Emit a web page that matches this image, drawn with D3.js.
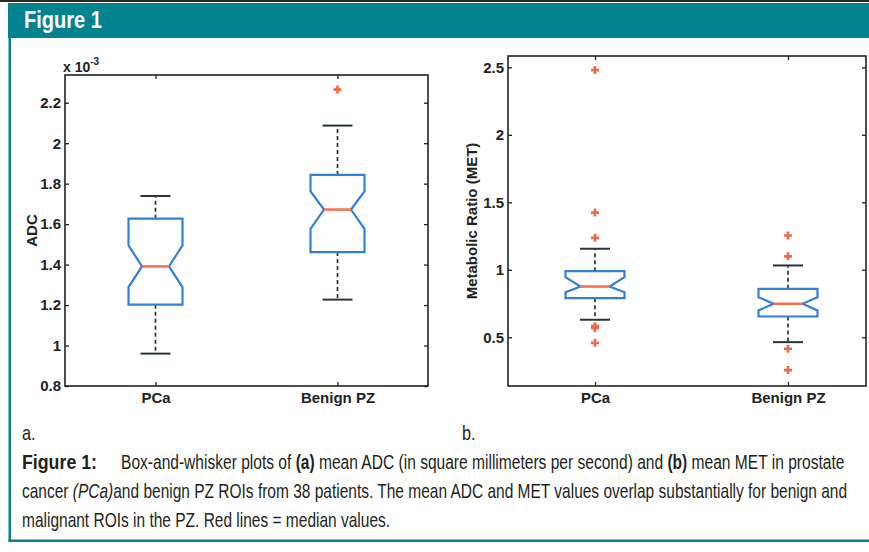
<!DOCTYPE html>
<html>
<head>
<meta charset="utf-8">
<script src="https://cdn.jsdelivr.net/npm/d3@7"></script>
<style>
  body { margin: 0; background: #fff; }
  svg { display: block; }
</style>
</head>
<body>
<div id="container"></div>
<script>
/* CONSTANTS AND GLOBALS */
const width = 869,
  height = 552;

const teal = "#03828f",
  axisColor = "#1e2424",
  boxBlue = "#3380d8",
  medianRed = "#f4724f",
  whiskerColor = "#263636",
  outlierRed = "#f26a4c",
  axisFont = "'Liberation Sans', Arial, sans-serif",
  capFont = "'Liberation Sans', Arial, sans-serif";

/* DATA */
const categories = ["PCa", "Benign PZ"];

// (a) mean ADC, x 10^-3
const adcTicks = [0.8, 1, 1.2, 1.4, 1.6, 1.8, 2, 2.2];
const adcWhiskerLow = [0.96, 1.227];
const adcQ1 = [1.202, 1.462];
const adcNotchLow = [1.289, 1.577];
const adcMedian = [1.391, 1.672];
const adcNotchHigh = [1.495, 1.762];
const adcQ3 = [1.627, 1.843];
const adcWhiskerHigh = [1.739, 2.087];
const adcOutliers = [[], [2.265]];

// (b) metabolic ratio (MET)
const metTicks = [0.5, 1, 1.5, 2, 2.5];
const metWhiskerLow = [0.63, 0.464];
const metQ1 = [0.79, 0.654];
const metNotchLow = [0.834, 0.699];
const metMedian = [0.876, 0.748];
const metNotchHigh = [0.945, 0.797];
const metQ3 = [0.99, 0.859];
const metWhiskerHigh = [1.156, 1.032];
const metOutliers = [[2.48, 1.424, 1.237, 0.582, 0.568, 0.459], [1.254, 1.1, 0.415, 0.257]];

/* SVG */
const svg = d3.select("#container")
  .append("svg")
  .attr("width", width)
  .attr("height", height);

// + HEADER AND FRAME
svg.append("rect").attr("x", 0).attr("y", 0).attr("width", width).attr("height", 2).attr("fill", "#2a2a2a");
svg.append("rect").attr("x", 8).attr("y", 3).attr("width", width - 8).attr("height", 35).attr("fill", teal);
svg.append("rect").attr("x", 8.5).attr("y", 38).attr("width", 2.5).attr("height", 504).attr("fill", teal);
svg.append("rect").attr("x", 8.5).attr("y", 539.5).attr("width", width - 8.5).attr("height", 2.5).attr("fill", teal);

/* PANELS */
function drawPanel(p) {
  const f = p.frame;
  const xScale = d3.scalePoint().domain(categories).range(p.centers);
  const yScale = d3.scaleLinear().domain(p.yDomain).range([f.bottom, f.top]);
  const g = svg.append("g");

  const styleAxis = sel => sel
    .attr("color", axisColor)
    .attr("font-family", axisFont)
    .attr("font-size", 15)
    .attr("font-weight", "bold")
    .call(a => a.select(".domain").remove())
    .call(a => a.selectAll(".tick line").attr("stroke-width", 1.3))
    .call(a => a.selectAll(".tick text").attr("fill", "#222"));

  // + AXES (ticks point inward, MATLAB style)
  g.append("g")
    .attr("transform", `translate(${f.left},0)`)
    .call(d3.axisLeft(yScale).tickValues(p.ticks).tickFormat(d3.format("~g"))
      .tickSizeInner(-4).tickSizeOuter(0).tickPadding(4))
    .call(styleAxis);
  g.append("g")
    .attr("transform", `translate(${f.right},0)`)
    .call(d3.axisRight(yScale).tickValues(p.ticks).tickFormat("")
      .tickSizeInner(-4).tickSizeOuter(0))
    .call(styleAxis);
  g.append("g")
    .attr("transform", `translate(0,${f.bottom})`)
    .call(d3.axisBottom(xScale).tickSizeInner(-4).tickSizeOuter(0).tickPadding(6))
    .call(styleAxis);
  g.append("g")
    .attr("transform", `translate(0,${f.top})`)
    .call(d3.axisTop(xScale).tickFormat("").tickSizeInner(-4).tickSizeOuter(0))
    .call(styleAxis);

  g.append("rect")
    .attr("x", f.left).attr("y", f.top)
    .attr("width", f.right - f.left).attr("height", f.bottom - f.top)
    .attr("fill", "none")
    .attr("stroke", axisColor)
    .attr("stroke-width", 1.6);

  // + Y LABEL
  g.append("text")
    .attr("transform", `translate(${p.labelX},${(f.top + f.bottom) / 2}) rotate(-90)`)
    .attr("text-anchor", "middle")
    .attr("font-family", axisFont)
    .attr("font-size", 15)
    .attr("font-weight", "bold")
    .attr("fill", "#222")
    .text(p.ylabel);

  // + BOXES
  categories.forEach((cat, i) => {
    const cx = xScale(cat),
      hw = p.boxWidth / 2,
      ins = p.notchInset,
      s = p.stats;

    // whiskers
    [[s.q3[i], s.whiskerHigh[i]], [s.q1[i], s.whiskerLow[i]]].forEach(([from, to]) => {
      g.append("line")
        .attr("x1", cx).attr("x2", cx)
        .attr("y1", yScale(from)).attr("y2", yScale(to))
        .attr("stroke", whiskerColor)
        .attr("stroke-width", 1.7)
        .attr("stroke-dasharray", "4,3");
      g.append("line")
        .attr("x1", cx - p.capWidth / 2).attr("x2", cx + p.capWidth / 2)
        .attr("y1", yScale(to)).attr("y2", yScale(to))
        .attr("stroke", whiskerColor)
        .attr("stroke-width", 2);
    });

    // notched box
    const pts = [
      [cx - hw, yScale(s.q3[i])],
      [cx + hw, yScale(s.q3[i])],
      [cx + hw, yScale(s.notchHigh[i])],
      [cx + hw - ins, yScale(s.median[i])],
      [cx + hw, yScale(s.notchLow[i])],
      [cx + hw, yScale(s.q1[i])],
      [cx - hw, yScale(s.q1[i])],
      [cx - hw, yScale(s.notchLow[i])],
      [cx - hw + ins, yScale(s.median[i])],
      [cx - hw, yScale(s.notchHigh[i])]
    ];
    g.append("path")
      .attr("d", d3.line()(pts) + "Z")
      .attr("fill", "#fff")
      .attr("stroke", boxBlue)
      .attr("stroke-width", 2.2);

    g.append("line")
      .attr("x1", cx - hw + ins).attr("x2", cx + hw - ins)
      .attr("y1", yScale(s.median[i])).attr("y2", yScale(s.median[i]))
      .attr("stroke", medianRed)
      .attr("stroke-width", 2.6);

    // outliers
    g.selectAll(null)
      .data(s.outliers[i])
      .join("path")
      .attr("transform", d => `translate(${cx},${yScale(d)})`)
      .attr("d", d3.symbol(d3.symbolCross, 36))
      .attr("fill", outlierRed);
  });

  return g;
}

const adcPanel = drawPanel({
  frame: { left: 65, right: 428, top: 75, bottom: 386 },
  centers: [155.5, 337.5],
  yDomain: [0.8, 2.337],
  ticks: adcTicks,
  ylabel: "ADC",
  labelX: 37,
  boxWidth: 54,
  notchInset: 13.5,
  capWidth: 30,
  stats: {
    whiskerLow: adcWhiskerLow, q1: adcQ1, notchLow: adcNotchLow, median: adcMedian,
    notchHigh: adcNotchHigh, q3: adcQ3, whiskerHigh: adcWhiskerHigh, outliers: adcOutliers
  }
});

// exponent label "x 10^-3"
const expLabel = adcPanel.append("text")
  .attr("x", 63).attr("y", 72)
  .attr("font-family", axisFont)
  .attr("font-size", 14)
  .attr("font-weight", "bold")
  .attr("fill", "#222");
expLabel.append("tspan").text("x 10");
expLabel.append("tspan").attr("font-size", 10).attr("dy", -7).text("-3");

drawPanel({
  frame: { left: 508, right: 866, top: 56, bottom: 386 },
  centers: [595, 788],
  yDomain: [0.139, 2.584],
  ticks: metTicks,
  ylabel: "Metabolic Ratio (MET)",
  labelX: 477,
  boxWidth: 59,
  notchInset: 15,
  capWidth: 30,
  stats: {
    whiskerLow: metWhiskerLow, q1: metQ1, notchLow: metNotchLow, median: metMedian,
    notchHigh: metNotchHigh, q3: metQ3, whiskerHigh: metWhiskerHigh, outliers: metOutliers
  }
});

/* CONDENSED TEXT */
// a condensed face is faked: shrink the font so the natural width fits, then stretch vertically
function condensedLine(x, y, parts, size, targetLen, ratio, fill) {
  const runs = parts.map(([str, st]) => svg.append("text")
    .attr("font-family", capFont)
    .attr("font-size", size)
    .attr("font-weight", st === "b" ? "bold" : null)
    .attr("font-style", st === "i" ? "italic" : null)
    .attr("fill", fill || "#231f20")
    .style("white-space", "pre")
    .text(str));
  const widths = runs.map(r => r.node().getComputedTextLength());
  const k = targetLen ? targetLen / d3.sum(widths) : ratio;
  let cx = x;
  runs.forEach((r, i) => {
    r.attr("font-size", size * k)
      .attr("transform", `translate(${cx},${y}) scale(1,${1 / k})`);
    cx += r.node().getComputedTextLength();
  });
  return k;
}

condensedLine(24, 28, [["Figure 1", "b"]], 24, 78, null, "#fff");

const squeeze = condensedLine(22, 498, [["cancer "], ["(PCa)", "i"],
  ["and benign PZ ROIs from 38 patients. The mean ADC and MET values overlap substantially for benign and"]], 20, 826);

condensedLine(22, 469, [["Figure 1:", "b"]], 20, 75);
condensedLine(121, 469, [["Box-and-whisker plots of "], ["(a)", "b"],
  [" mean ADC (in square millimeters per second) and "], ["(b)", "b"], [" mean MET in prostate"]], 20, 724);
condensedLine(22, 527, [["malignant ROIs in the PZ. Red lines = median values."]], 20, null, squeeze);

condensedLine(22, 440, [["a."]], 21, null, squeeze);
condensedLine(462, 440, [["b."]], 21, null, squeeze);
</script>
</body>
</html>
